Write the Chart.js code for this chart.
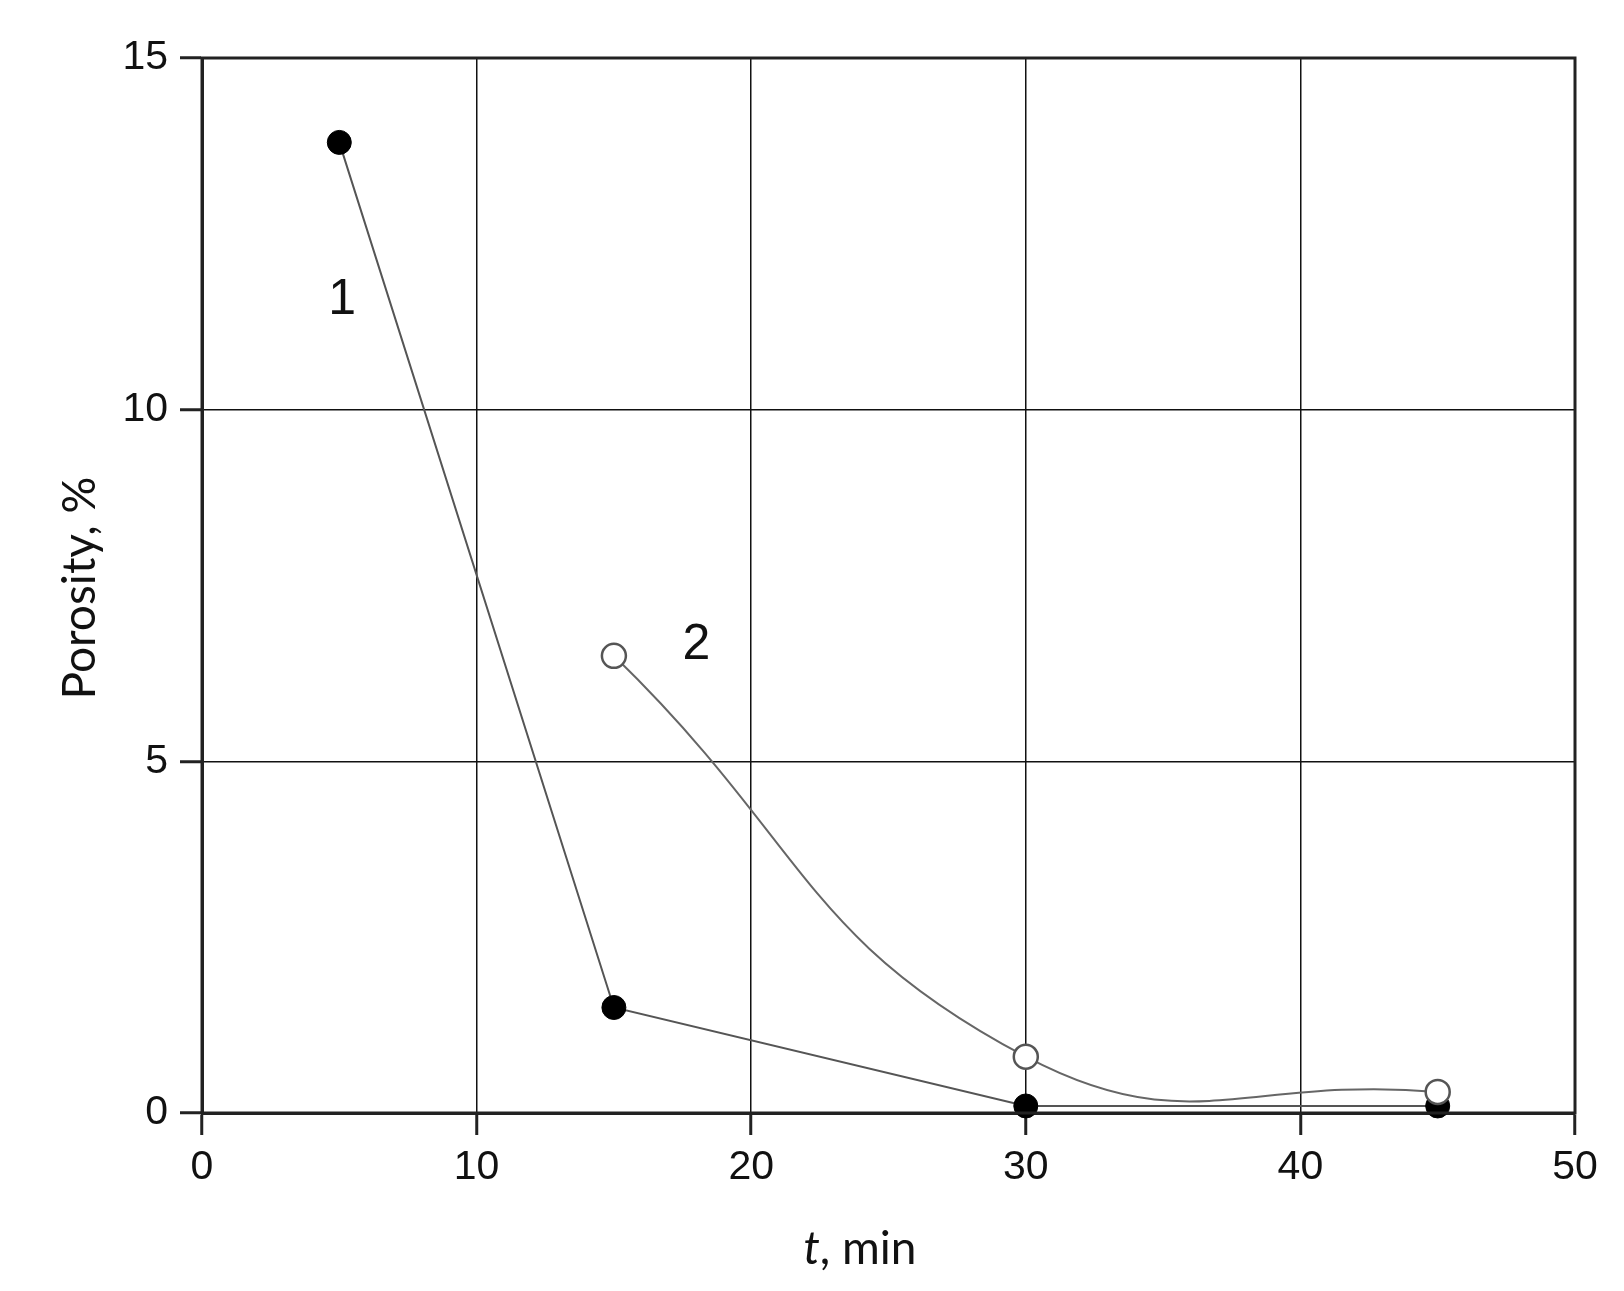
<!DOCTYPE html>
<html>
<head>
<meta charset="utf-8">
<script src="https://cdn.jsdelivr.net/npm/chart.js@4/dist/chart.umd.min.js"></script>
<style>
	html, body { margin: 0; padding: 0; background: #fff; }
	#wrap { width: 1624px; height: 1291px; }
</style>
</head>
<body>
<div id="wrap"><canvas id="myChart" width="1624" height="1291"></canvas></div>
<script>
// time, min
var t1 = [5, 15, 30, 45];
var porosity1 = [13.8, 1.5, 0.1, 0.1];
var t2 = [15, 30, 45];
var porosity2 = [6.5, 0.8, 0.3];
var xTicks = [0, 10, 20, 30, 40, 50];
var yTicks = [0, 5, 10, 15];

function pts(xs, ys) {
	return xs.map(function(x, i) { return { x: x, y: ys[i] }; });
}

// titles, curve numbers and the box around the plot
const extras = {
	id: 'extras',
	afterDraw(chart) {
		var c = chart.ctx, a = chart.chartArea;
		var xs = chart.scales.x, ys = chart.scales.y;
		c.save();
		c.strokeStyle = '#222';
		c.lineWidth = 3;
		c.strokeRect(a.left, a.top, a.right - a.left, a.bottom - a.top);

		c.fillStyle = '#111';
		c.font = '50px "Liberation Sans", Arial, sans-serif';
		c.textAlign = 'center';
		c.textBaseline = 'middle';
		c.fillText('1', xs.getPixelForValue(5.1), ys.getPixelForValue(11.55));
		c.fillText('2', xs.getPixelForValue(18.0), ys.getPixelForValue(6.65));

		// y title
		c.save();
		c.translate(80, 588);
		c.rotate(-Math.PI / 2);
		c.font = '46px Lato, "Open Sans", sans-serif';
		c.fillText('Porosity, %', 0, 0);
		c.restore();

		// x title, italic t
		c.textAlign = 'left';
		c.textBaseline = 'alphabetic';
		c.font = 'italic 46px Lato, "Open Sans", sans-serif';
		var w1 = c.measureText('t').width;
		c.font = '46px Lato, "Open Sans", sans-serif';
		var w2 = c.measureText(', min').width;
		var x0 = 860 - (w1 + w2) / 2;
		c.font = 'italic 46px Lato, "Open Sans", sans-serif';
		c.fillText('t', x0, 1264);
		c.font = '46px Lato, "Open Sans", sans-serif';
		c.fillText(', min', x0 + w1, 1264);
		c.restore();
	}
};

var ctx = document.getElementById('myChart');
var myChart = new Chart(ctx, {
	type: 'scatter',
	data: {
		datasets: [{
			label: '2',
			data: pts(t2, porosity2),
			showLine: true,
			tension: 0.47,
			capBezierPoints: false,
			borderColor: '#666',
			borderWidth: 2,
			pointRadius: 12,
			pointBackgroundColor: '#fff',
			pointBorderColor: '#555',
			pointBorderWidth: 2.5,
			clip: false,
			order: 0
		}, {
			label: '1',
			data: pts(t1, porosity1),
			showLine: true,
			tension: 0,
			borderColor: '#555',
			borderWidth: 2,
			pointRadius: 12,
			pointBackgroundColor: '#000',
			pointBorderColor: '#000',
			pointBorderWidth: 1,
			clip: false,
			order: 1
		}]
	},
	options: {
		responsive: false,
		animation: false,
		devicePixelRatio: 1,
		layout: { padding: { top: 58, right: 49, left: 0, bottom: 0 } },
		plugins: {
			legend: { display: false },
			tooltip: { enabled: false }
		},
		scales: {
			x: {
				type: 'linear',
				min: 0,
				max: 50,
				afterFit: function(s) { s.height = 178; },
				afterBuildTicks: function(s) { s.ticks = xTicks.map(function(v) { return { value: v }; }); },
				grid: { color: '#111', lineWidth: 1.5, tickLength: 22, tickWidth: 3, tickColor: '#222' },
				border: { color: '#222', width: 3 },
				ticks: { color: '#111', padding: 8, font: { family: '"Liberation Sans", Arial, sans-serif', size: 41 } }
			},
			y: {
				type: 'linear',
				min: 0,
				max: 15,
				afterFit: function(s) { s.width = 202; },
				afterBuildTicks: function(s) { s.ticks = yTicks.map(function(v) { return { value: v }; }); },
				grid: { color: '#111', lineWidth: 1.5, tickLength: 22, tickWidth: 3, tickColor: '#222' },
				border: { color: '#222', width: 3 },
				ticks: { color: '#111', padding: 12, font: { family: '"Liberation Sans", Arial, sans-serif', size: 41 } }
			}
		}
	},
	plugins: [extras]
});
</script>
</body>
</html>
